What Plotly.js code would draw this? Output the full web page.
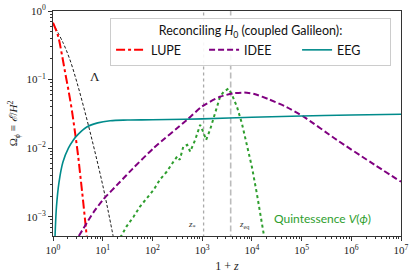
<!DOCTYPE html>
<html><head><meta charset="utf-8">
<script src="https://cdn.plot.ly/plotly-3.0.1.min.js"></script>
<style>html,body{margin:0;padding:0;background:#fff}#plot{width:416px;height:276px}</style>
</head><body><div id="plot"></div>
<script>
// Λ (black dashed)
const lambdaX = [1, 1.61, 2.20, 3.00, 4.07, 5.55, 7.57, 10.3, 13.0, 16.3];
const lambdaY = [0.66, 0.339, 0.193, 0.0933, 0.0417, 0.0174, 0.00692, 0.00263, 0.00117, 0.000513];
// LUPE (red dash-dot)
const lupeX = [1, 1.259, 1.496, 1.778, 2.042, 2.399, 2.773, 3.162, 3.548, 4.074, 4.764];
const lupeY = [0.676, 0.437, 0.24, 0.12, 0.0708, 0.0355, 0.017, 0.0083, 0.00398, 0.00158, 0.000525];
// IDEE (purple dashed)
const ideeX = [3.31, 6.46, 10.2, 22.4, 39.8, 105, 490, 1000, 2290, 4270, 7080, 11200, 22400, 50100, 110000, 513000, 2.4e6, 1e7];
const ideeY = [5.25e-4, 1.15e-3, 1.78e-3, 3.24e-3, 5.0e-3, 0.0100, 0.0257, 0.0407, 0.0562, 0.0631, 0.0646, 0.0617, 0.0513, 0.0398, 0.0288, 0.0132, 0.0063, 0.00324];
// EEG (teal solid)
const eegX = [1, 1.035, 1.096, 1.175, 1.318, 1.585, 2.042, 2.570, 3.162, 4.786, 7.94, 14.1, 31.6, 100, 1000, 1e4, 1e5, 1e6, 1e7];
const eegY = [1e-5, 2.0e-4, 5.1e-4, 1.41e-3, 3.16e-3, 6.3e-3, 0.0100, 0.0132, 0.0158, 0.0204, 0.0234, 0.0251, 0.0257, 0.0260, 0.0268, 0.0282, 0.0295, 0.0305, 0.0313];
// Quintessence V(phi) (green dotted)
const quintX = [22.4, 24.0, 30.2, 41.7, 56.2, 76.7, 105, 141, 195, 263, 316, 355, 417, 501, 575, 724, 912, 1047, 1202, 1445, 1820, 2291, 2692, 3388, 3981, 5012, 6310, 7943, 10000, 12589, 15849, 17783];
const quintY = [5.0e-4, 5.37e-4, 7.24e-4, 1.0e-3, 1.41e-3, 1.86e-3, 2.45e-3, 3.47e-3, 4.57e-3, 6.31e-3, 7.59e-3, 6.76e-3, 0.0105, 0.0112, 8.91e-3, 0.0132, 0.0219, 0.0174, 0.0132, 0.0186, 0.0324, 0.0562, 0.0661, 0.0741, 0.0603, 0.0403, 0.0229, 0.0117, 5.37e-3, 2.19e-3, 8.13e-4, 5.0e-4];
// reference epochs (1+z)
const zStar = 1070;
const zEq = 3750;
const yEdges = [1e-4, 1];
// ticks
const xTickVals = [1, 10, 100, 1e3, 1e4, 1e5, 1e6, 1e7];
const xTickText = ['10<sup>0</sup>','10<sup>1</sup>','10<sup>2</sup>','10<sup>3</sup>','10<sup>4</sup>','10<sup>5</sup>','10<sup>6</sup>','10<sup>7</sup>'];
const yTickVals = [1e-3, 1e-2, 1e-1, 1];
const yTickText = ['10<sup>−3</sup>','10<sup>−2</sup>','10<sup>−1</sup>','10<sup>0</sup>'];

function minors(lo, hi) {
  const out = [];
  for (let e = lo; e < hi; e++) for (let m = 2; m <= 9; m++) out.push(m * Math.pow(10, e));
  return out;
}

const traces = [
  {x: [zStar, zStar], y: yEdges, mode: 'lines', line: {color: '#aaaaaa', width: 1.3, dash: 'dot'}, showlegend: false, hoverinfo: 'skip'},
  {x: [zEq, zEq], y: yEdges, mode: 'lines', line: {color: '#bbbbbb', width: 1.6, dash: '6px,3px'}, showlegend: false, hoverinfo: 'skip'},
  {x: lambdaX, y: lambdaY, mode: 'lines', line: {color: '#000000', width: 0.9, dash: '3px,2px', shape: 'spline'}, showlegend: false},
  {x: quintX, y: quintY, mode: 'lines', line: {color: '#2e9e2e', width: 2, dash: 'dot'}, showlegend: false},
  {x: lupeX, y: lupeY, mode: 'lines', name: 'LUPE', line: {color: '#ff0000', width: 2, dash: 'dashdot', shape: 'spline'}},
  {x: ideeX, y: ideeY, mode: 'lines', name: 'IDEE', line: {color: '#800080', width: 2, dash: '6px,3px', shape: 'spline', smoothing: 0.6}},
  {x: eegX, y: eegY, mode: 'lines', name: 'EEG', line: {color: '#008b8b', width: 1.6, shape: 'spline'}}
];

const axFont = {family: 'Liberation Serif, DejaVu Serif, serif', size: 11, color: '#222'};
const legFont = {family: 'Lato, Open Sans, sans-serif', size: 12.5, color: '#111'};
const layout = {
  width: 416, height: 276,
  margin: {l: 53, r: 15, t: 11, b: 40},
  paper_bgcolor: '#fff', plot_bgcolor: '#fff',
  showlegend: true,
  legend: {
    orientation: 'h', x: 0.164, y: 0.969, xanchor: 'left', yanchor: 'top',
    bgcolor: 'rgba(255,255,255,0.9)', bordercolor: '#cccccc', borderwidth: 1,
    font: legFont,
    title: {text: 'Reconciling <i>H</i><sub>0</sub> (coupled Galileon):', side: 'top center', font: legFont},
    entrywidth: 48, itemwidth: 30, tracegroupgap: 0
  },
  xaxis: {
    type: 'log', range: [0, 7], showgrid: false, zeroline: false,
    showline: true, linecolor: '#333', linewidth: 1, mirror: true,
    ticks: 'outside', ticklen: 4, tickcolor: '#333',
    tickmode: 'array', tickvals: xTickVals, ticktext: xTickText, tickfont: axFont,
    minor: {tickmode: 'array', tickvals: minors(0, 7), ticks: 'outside', ticklen: 2, tickcolor: '#333'},
    title: {text: '1 + <i>z</i>', font: {family: 'Liberation Serif, serif', size: 12, color: '#222'}, standoff: 6}
  },
  yaxis: {
    type: 'log', range: [-3.28, 0], showgrid: false, zeroline: false,
    showline: true, linecolor: '#333', linewidth: 1, mirror: true,
    ticks: 'outside', ticklen: 4, tickcolor: '#333',
    tickmode: 'array', tickvals: yTickVals, ticktext: yTickText, tickfont: axFont,
    minor: {tickmode: 'array', tickvals: minors(-4, 0), ticks: 'outside', ticklen: 2, tickcolor: '#333'},
    title: {text: 'Ω<sub><i>ϕ</i></sub> ≡ <i>ℰ</i>/<i>H</i><sup>2</sup>', font: {family: 'Liberation Serif, serif', size: 11, color: '#222'}, standoff: 6}
  },
  annotations: [
    {x: Math.log10(7.0), y: Math.log10(0.11), xref: 'x', yref: 'y', text: 'Λ', showarrow: false,
     font: {family: 'Liberation Serif, serif', size: 13, color: '#222'}},
    {x: Math.log10(620), y: Math.log10(7.8e-4), xref: 'x', yref: 'y', text: '<i>z</i><sub>*</sub>', showarrow: false,
     font: {family: 'Liberation Serif, serif', size: 9, color: '#333'}},
    {x: Math.log10(7000), y: Math.log10(7.8e-4), xref: 'x', yref: 'y', text: '<i>z</i><sub>eq</sub>', showarrow: false,
     font: {family: 'Liberation Serif, serif', size: 9, color: '#333'}},
    {x: Math.log10(26000), y: Math.log10(9.5e-4), xref: 'x', yref: 'y', xanchor: 'left', text: 'Quintessence <i>V</i>(<i>ϕ</i>)', showarrow: false,
     font: {family: 'Lato, Open Sans, sans-serif', size: 12, color: '#2e9e2e'}}
  ]
};
Plotly.newPlot('plot', traces, layout, {displayModeBar: false, staticPlot: true});
</script></body></html>
